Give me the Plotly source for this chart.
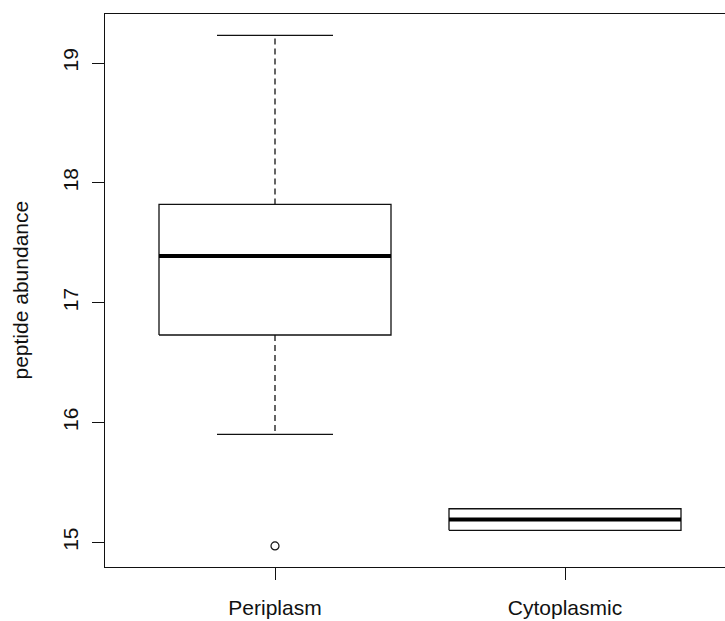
import plotly.graph_objects as go

categories = ["Periplasm", "Cytoplasmic"]
lower_whisker = [15.90, 15.10]
q1 = [16.73, 15.10]
median = [17.39, 15.19]
q3 = [17.82, 15.28]
upper_whisker = [19.23, 15.28]
outliers = [[14.97], []]
y_ticks = [15, 16, 17, 18, 19]

FONT = "Liberation Sans, Arial, sans-serif"
LINE = "#111111"
half_box = 0.4
half_staple = 0.2

fig = go.Figure()
for i, name in enumerate(categories):
    x = i + 1
    # whiskers (dashed)
    fig.add_trace(go.Scatter(x=[x, x], y=[q3[i], upper_whisker[i]], mode="lines",
                             line=dict(color=LINE, width=1.3, dash="6px,4px"), hoverinfo="skip"))
    fig.add_trace(go.Scatter(x=[x, x], y=[q1[i], lower_whisker[i]], mode="lines",
                             line=dict(color=LINE, width=1.3, dash="6px,4px"), hoverinfo="skip"))
    # staples
    for v in (upper_whisker[i], lower_whisker[i]):
        fig.add_trace(go.Scatter(x=[x - half_staple, x + half_staple], y=[v, v], mode="lines",
                                 line=dict(color=LINE, width=1.3), hoverinfo="skip"))
    # box
    fig.add_trace(go.Scatter(
        x=[x - half_box, x + half_box, x + half_box, x - half_box, x - half_box],
        y=[q1[i], q1[i], q3[i], q3[i], q1[i]], mode="lines",
        fill="toself", fillcolor="white",
        line=dict(color=LINE, width=1.3), hoverinfo="skip"))
    # median
    fig.add_trace(go.Scatter(x=[x - half_box, x + half_box], y=[median[i], median[i]], mode="lines",
                             line=dict(color="black", width=4), hoverinfo="skip"))
    # outliers
    if outliers[i]:
        fig.add_trace(go.Scatter(x=[x] * len(outliers[i]), y=outliers[i], mode="markers",
                                 marker=dict(symbol="circle-open", size=8, color=LINE,
                                             line=dict(width=1.2, color=LINE)),
                                 hoverinfo="skip"))

fig.update_layout(
    width=725, height=621,
    margin=dict(l=105, r=0, t=14, b=54),
    plot_bgcolor="white", paper_bgcolor="white",
    showlegend=False,
    font=dict(family=FONT, size=21, color="#111111"),
    xaxis=dict(range=[1 - 170 / 290, 2 + 160 / 290], tickvals=[1, 2], ticktext=categories,
               showgrid=False, zeroline=False, showline=True, mirror=True,
               linecolor=LINE, linewidth=1.3, ticks="outside", ticklen=12,
               tickcolor=LINE, tickwidth=1.3, ticklabelstandoff=10),
    yaxis=dict(range=[14.794, 19.409], tickvals=y_ticks, ticktext=[str(t) for t in y_ticks],
               tickangle=-90, showgrid=False, zeroline=False, showline=True, mirror=False,
               linecolor=LINE, linewidth=1.3, ticks="outside", ticklen=12,
               tickcolor=LINE, tickwidth=1.3, ticklabelstandoff=5),
    annotations=[dict(text="peptide abundance", xref="paper", yref="paper",
                      x=-(105 - 20) / 620, y=0.5, xanchor="center", yanchor="middle",
                      textangle=-90, showarrow=False, font=dict(size=21))],
)

fig.write_html("out.html")
